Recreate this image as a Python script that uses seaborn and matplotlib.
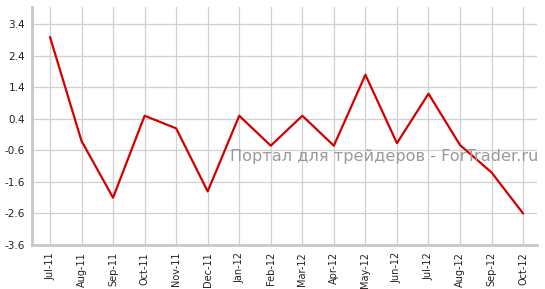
import matplotlib
matplotlib.use("Agg")
import matplotlib.pyplot as plt
import seaborn as sns
import pandas as pd

months = ["Jul-11", "Aug-11", "Sep-11", "Oct-11", "Nov-11", "Dec-11", "Jan-12", "Feb-12",
          "Mar-12", "Apr-12", "May-12", "Jun-12", "Jul-12", "Aug-12", "Sep-12", "Oct-12"]
values = [3.0, -0.3, -2.1, 0.5, 0.1, -1.9, 0.5, -0.45,
          0.5, -0.45, 1.8, -0.37, 1.2, -0.43, -1.3, -2.6]
yticks = [-3.6, -2.6, -1.6, -0.6, 0.4, 1.4, 2.4, 3.4]

df = pd.DataFrame({"idx": range(len(months)), "month": months, "value": values})

sns.set_style("white")
fig = plt.figure(figsize=(5.45, 2.89), dpi=100)
ax = fig.add_axes([32/545, 1-245/289, (537-32)/545, (245-7)/289])

sns.lineplot(data=df, x="idx", y="value", ax=ax, color="#d40000", linewidth=1.6)

ax.set_xlim(-0.57, 15.44)
ax.set_ylim(-3.6, 3.95)
ax.set_xticks(range(len(months)))
ax.set_xticklabels(months, rotation=90, fontsize=7, color="#222222")
ax.set_yticks(yticks)
ax.set_yticklabels([f"{v:.1f}" for v in yticks], fontsize=7.5, color="#222222")
ax.set_xlabel("")
ax.set_ylabel("")

ax.grid(True, color="#d0d0d0", linewidth=0.9)
ax.set_axisbelow(True)
for s in ["top", "right"]:
    ax.spines[s].set_visible(False)
for s in ["left", "bottom"]:
    ax.spines[s].set_color("#c8c8c8")
    ax.spines[s].set_linewidth(2)
ax.tick_params(axis="both", length=3, color="#c8c8c8", width=1, pad=2)

fig.text(230/545, 1-156/289, "Портал для трейдеров - ForTrader.ru",
         fontsize=11.6, color="#9a9a9a", ha="left", va="center")

fig.savefig("out.png", dpi=100)
